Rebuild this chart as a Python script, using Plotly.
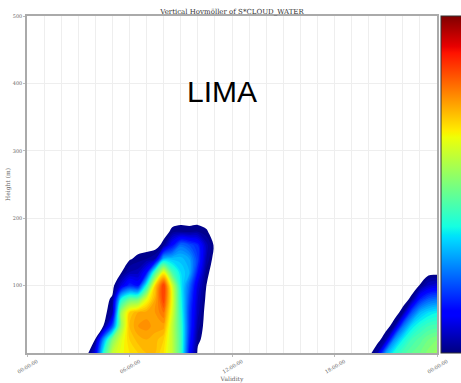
import plotly.graph_objects as go

# ---------------- data ----------------
time_hours = [0, 2.5, 3.0, 3.5, 4.0, 4.5, 5.0, 5.5, 6.0, 6.5, 7.0, 7.5, 8.0, 8.5,
              9.0, 9.5, 10.0, 10.5, 11.0, 11.5, 19.5, 20.0, 20.5, 21.0, 21.5,
              22.0, 22.5, 23.0, 23.5, 24.0]
heights_m = [0, 20, 40, 60, 80, 100, 120, 140, 160, 180, 200]

cw_h0   = [0, 0, 0, 0, 0.11, 0.42, 0.6, 0.65, 0.68, 0.7, 0.72, 0.72, 0.68, 0.6, 0.45, 0.15, 0.01, 0, 0, 0,
           0, 0, 0.06, 0.3, 0.4, 0.45, 0.48, 0.5, 0.53, 0.55]
cw_h20  = [0, 0, 0, 0, 0.021, 0.3, 0.52, 0.63, 0.7, 0.73, 0.74, 0.73, 0.7, 0.6, 0.45, 0.18, 0.03, 0, 0, 0,
           0, 0, 0, 0.05, 0.28, 0.38, 0.44, 0.47, 0.5, 0.52]
cw_h40  = [0, 0, 0, 0, 0, 0.022, 0.22, 0.55, 0.72, 0.76, 0.77, 0.75, 0.75, 0.6, 0.44, 0.2, 0.05, 0, 0, 0,
           0, 0, 0, 0, 0.04, 0.25, 0.36, 0.41, 0.44, 0.45]
cw_h60  = [0, 0, 0, 0, 0, 0, 0.06, 0.55, 0.7, 0.74, 0.75, 0.76, 0.8, 0.63, 0.42, 0.2, 0.07, 0, 0, 0,
           0, 0, 0, 0, 0, 0.035, 0.22, 0.32, 0.36, 0.38]
cw_h80  = [0, 0, 0, 0, 0, 0, 0.029, 0.38, 0.48, 0.5, 0.64, 0.74, 0.86, 0.65, 0.4, 0.22, 0.08, 0.01, 0, 0,
           0, 0, 0, 0, 0, 0, 0.028, 0.17, 0.23, 0.25]
cw_h100 = [0, 0, 0, 0, 0, 0, 0, 0.1, 0.18, 0.15, 0.4, 0.7, 0.87, 0.62, 0.38, 0.25, 0.1, 0.02, 0, 0,
           0, 0, 0, 0, 0, 0, 0, 0.022, 0.08, 0.1]
cw_h120 = [0, 0, 0, 0, 0, 0, 0, 0.015, 0.06, 0.07, 0.15, 0.45, 0.65, 0.45, 0.36, 0.32, 0.16, 0.03, 0, 0,
           0, 0, 0, 0, 0, 0, 0, 0, 0, 0]
cw_h140 = [0, 0, 0, 0, 0, 0, 0, 0, 0.015, 0.03, 0.04, 0.06, 0.32, 0.33, 0.33, 0.3, 0.2, 0.06, 0, 0,
           0, 0, 0, 0, 0, 0, 0, 0, 0, 0]
cw_h160 = [0, 0, 0, 0, 0, 0, 0, 0, 0, 0, 0, 0, 0.035, 0.15, 0.25, 0.22, 0.18, 0.07, 0.01, 0,
           0, 0, 0, 0, 0, 0, 0, 0, 0, 0]
cw_h180 = [0, 0, 0, 0, 0, 0, 0, 0, 0, 0, 0, 0, 0, 0.03, 0.04, 0.035, 0.04, 0.025, 0, 0,
           0, 0, 0, 0, 0, 0, 0, 0, 0, 0]
cw_h200 = [0] * 30

cloud_water = [cw_h0, cw_h20, cw_h40, cw_h60, cw_h80, cw_h100,
               cw_h120, cw_h140, cw_h160, cw_h180, cw_h200]

x_tickvals = [0, 6, 12, 18, 24]
x_ticktext = ["00:00:00", "06:00:00", "12:00:00", "18:00:00", "00:00:00"]
y_tickvals = [100, 200, 300, 400, 500]

# ---------------- styling ----------------
jet_pts = [(0.0, (0, 0, 0.5)), (0.11, (0, 0, 1)), (0.125, (0, 0, 1)),
           (0.34, (0, 0.86, 1)), (0.35, (0, 0.9, 0.968)), (0.375, (0.081, 1, 0.887)),
           (0.64, (0.935, 1, 0.032)), (0.65, (0.968, 0.963, 0)), (0.66, (1, 0.926, 0)),
           (0.89, (1, 0.074, 0)), (0.91, (0.909, 0, 0)), (1.0, (0.5, 0, 0))]


def rgb(c):
    return "rgb(%d,%d,%d)" % (round(c[0] * 255), round(c[1] * 255), round(c[2] * 255))


jet = [[p, rgb(c)] for p, c in jet_pts]

# contour fill: levels from 0.02 to 1.0; background (below first level) transparent
lev_start, lev_size, lev_end = 0.02, 0.02, 1.0
clear = "rgba(255,255,255,0)"
masked = [[0, clear], [0.009, clear]] + \
         [[0.01 + p * 0.99, rgb(c)] for p, c in jet_pts]

fig = go.Figure()
fig.add_trace(go.Contour(
    x=time_hours, y=heights_m, z=cloud_water,
    colorscale=masked, autocontour=False,
    contours=dict(start=lev_start, end=lev_end, size=lev_size, coloring="fill"),
    line=dict(width=0, smoothing=1.0),
    showscale=False, hoverinfo="skip"))

fig.add_trace(go.Scatter(
    x=[None], y=[None], mode="markers", showlegend=False, hoverinfo="skip",
    marker=dict(color=[0], cmin=0, cmax=1, colorscale=jet, showscale=True,
                colorbar=dict(thickness=22, len=1, lenmode="fraction",
                              y=0.5, yanchor="middle",
                              x=(441 - 27) / 410, xanchor="left",
                              xpad=0, ypad=0, showticklabels=False, ticks="",
                              outlinecolor="#333333", outlinewidth=1))))

tick_font = dict(family="DejaVu Serif", size=5, color="#666666")
grid_c = "#eeeeee"

fig.update_layout(
    width=461, height=383,
    margin=dict(l=27, r=24, t=16, b=30, autoexpand=False),
    paper_bgcolor="white", plot_bgcolor="white",
    title=dict(text="Vertical Hovmöller of S*CLOUD_WATER",
               font=dict(family="DejaVu Serif", size=7, color="#333333"),
               x=0.5, xref="paper", xanchor="center",
               y=1 - 11.5 / 383, yref="container", yanchor="middle"),
    xaxis=dict(range=[0, 24], tickmode="array", tickvals=x_tickvals, ticktext=x_ticktext,
               tickangle=-30, tickfont=tick_font, ticklabelshift=10, automargin=False,
               showgrid=True, gridcolor=grid_c, gridwidth=1,
               minor=dict(tickmode="linear", tick0=0, dtick=1, showgrid=True,
                          gridcolor=grid_c, gridwidth=1),
               showline=True, mirror=True, linecolor="#aaaaaa", linewidth=1.5,
               ticks="outside", ticklen=2, tickcolor="#bbbbbb",
               zeroline=False,
               title=dict(text="Validity", font=dict(family="DejaVu Serif", size=6, color="#666666"),
                          standoff=9)),
    yaxis=dict(range=[0, 500], tickmode="array", tickvals=y_tickvals,
               tickfont=tick_font, automargin=False,
               showgrid=True, gridcolor=grid_c, gridwidth=1,
               showline=True, mirror=True, linecolor="#aaaaaa", linewidth=1.5,
               ticks="outside", ticklen=2, tickcolor="#bbbbbb",
               zeroline=False,
               title=dict(text="Height (m)", font=dict(family="DejaVu Serif", size=6, color="#666666"),
                          standoff=2)),
    annotations=[dict(text="LIMA", x=(222 - 27) / 410, y=1 - (91 - 16) / 337,
                      xref="paper", yref="paper", xanchor="center", yanchor="middle",
                      showarrow=False,
                      font=dict(family="Liberation Sans", size=30, color="black"))],
)

fig.write_html("out.html")
